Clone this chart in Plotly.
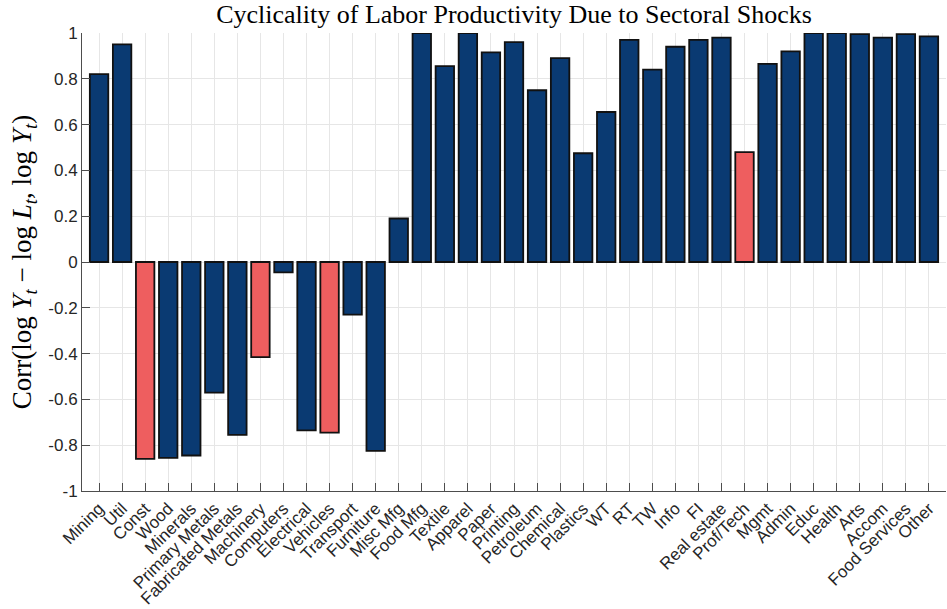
import plotly.graph_objects as go

sectors = ['Mining', 'Util', 'Const', 'Wood', 'Minerals', 'Primary Metals',
           'Fabricated Metals', 'Machinery', 'Computers', 'Electrical', 'Vehicles',
           'Transport', 'Furniture', 'Misc Mfg', 'Food Mfg', 'Textile', 'Apparel',
           'Paper', 'Printing', 'Petroleum', 'Chemical', 'Plastics', 'WT', 'RT',
           'TW', 'Info', 'FI', 'Real estate', 'Prof/Tech', 'Mgmt', 'Admin', 'Educ',
           'Health', 'Arts', 'Accom', 'Food Services', 'Other']
corr = [0.82, 0.95, -0.86, -0.855, -0.845, -0.57, -0.755, -0.415, -0.045,
        -0.735, -0.745, -0.23, -0.825, 0.19, 1.0, 0.855, 1.0, 0.915, 0.96,
        0.75, 0.89, 0.475, 0.655, 0.97, 0.84, 0.94, 0.97, 0.98, 0.48, 0.865,
        0.92, 1.0, 1.0, 0.995, 0.98, 0.995, 0.985]
highlight = ['Const', 'Machinery', 'Vehicles', 'Prof/Tech']
y_ticks = [-1, -0.8, -0.6, -0.4, -0.2, 0, 0.2, 0.4, 0.6, 0.8, 1]

NAVY = '#0a3a72'
RED = '#ee5e5f'
colors = [RED if s in highlight else NAVY for s in sectors]
x = list(range(len(sectors)))

fig = go.Figure()
fig.add_trace(go.Bar(
    x=x, y=corr, width=0.8,
    marker=dict(color=colors, line=dict(color='#111111', width=1.8)),
    showlegend=False,
))

tick_font = dict(family='Liberation Sans, Arial, sans-serif', size=17, color='#262626')
serif = 'Liberation Serif, DejaVu Serif, serif'
fig.update_layout(
    width=947, height=609,
    margin=dict(l=82, r=1, t=33, b=118, autoexpand=False),
    plot_bgcolor='white', paper_bgcolor='white',
    title=dict(
        text='Cyclicality of Labor Productivity Due to Sectoral Shocks',
        x=0.5428, xanchor='center', y=0.978, yanchor='middle',
        font=dict(family=serif, size=26, color='black'),
    ),
    xaxis=dict(
        range=[-0.74, len(sectors) - 0.26],
        tickvals=x, ticktext=sectors, tickangle=-45,
        tickfont=tick_font, automargin=False,
        showgrid=True, gridcolor='#e6e6e6', gridwidth=1,
        showline=True, linecolor='#4d4d4d', linewidth=1,
        ticks='inside', ticklen=8, tickcolor='#4d4d4d',
        zeroline=False,
    ),
    yaxis=dict(
        range=[-1, 1],
        tickvals=y_ticks,
        ticktext=[('%g' % v) for v in y_ticks],
        tickfont=tick_font, automargin=False,
        showgrid=True, gridcolor='#e6e6e6', gridwidth=1,
        showline=True, linecolor='#4d4d4d', linewidth=1,
        ticks='inside', ticklen=8, tickcolor='#4d4d4d',
        zeroline=False,
        title=dict(
            text='Corr(log <i>Y</i><sub><i>t</i></sub> \u2212 log <i>L</i><sub><i>t</i></sub>, log <i>Y</i><sub><i>t</i></sub>)',
            font=dict(family=serif, size=27, color='black'),
            standoff=8,
        ),
    ),
)

# page body has a default 8px margin; drop it so the figure sits at the window corner
fig.write_html("out.html", config={'displayModeBar': False},
               post_script="document.body.style.margin='0';")
